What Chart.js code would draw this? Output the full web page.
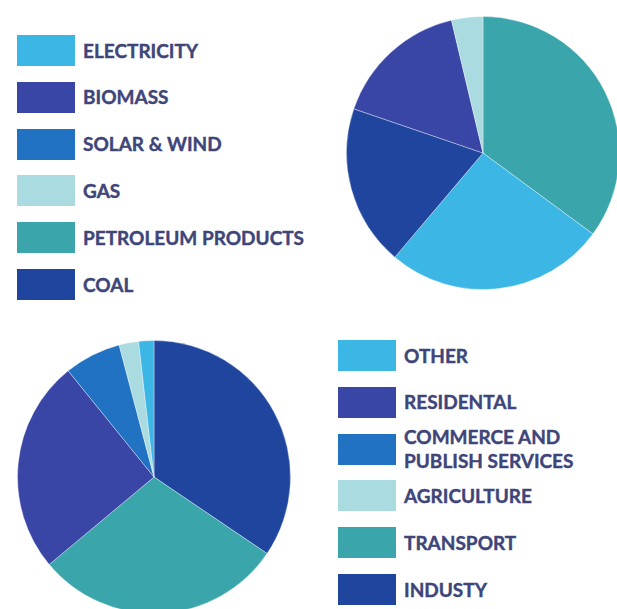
<!DOCTYPE html>
<html>
<head>
<meta charset="utf-8">
<script src="https://cdn.jsdelivr.net/npm/chart.js@4/dist/chart.umd.min.js"></script>
<style>
  html, body { margin: 0; padding: 0; width: 617px; height: 609px; overflow: hidden; background: #ffffff; }
  canvas { position: absolute; }
  .legend { position: absolute; margin: 0; padding: 0; list-style: none; }
  .legend li { position: absolute; left: 0; width: 300px; height: 31px; display: flex; align-items: center; }
  .legend .swatch { width: 58px; height: 31px; flex: none; }
  .legend .text {
    margin-left: 8px; font-family: Lato, "Open Sans", sans-serif; font-weight: 700;
    font-size: 19px; line-height: 24px; color: #3e4579; white-space: pre;
    -webkit-text-stroke: 0.4px #3e4579;
  }
</style>
</head>
<body>
<ul class="legend" id="sourceLegend" style="left:17px; top:35px;"></ul>
<ul class="legend" id="sectorLegend" style="left:338px; top:340px;"></ul>
<canvas id="sourcePie" width="274" height="274" style="left:346px; top:16px;"></canvas>
<canvas id="sectorPie" width="274" height="274" style="left:17px; top:340px;"></canvas>
<script>
// Shared palette, one colour per legend row
const palette = ['#3cb7e5', '#3a46a6', '#2172c2', '#a9dbe0', '#3aa5aa', '#1f459f'];

// Energy sources (legend order) and their shares, %
const sourceLabels = ['ELECTRICITY', 'BIOMASS', 'SOLAR & WIND', 'GAS', 'PETROLEUM PRODUCTS', 'COAL'];
const sourceShares = [26, 16, 0, 3.7, 35, 19];
// Slices run clockwise from 12 o'clock in this order
const sourceSliceOrder = [4, 0, 5, 1, 3, 2];

// Consuming sectors (legend order) and their shares, %
const sectorLabels = ['OTHER', 'RESIDENTAL', 'COMMERCE AND\nPUBLISH SERVICES', 'AGRICULTURE', 'TRANSPORT', 'INDUSTY'];
const sectorShares = [1.8, 25.2, 6.7, 2.3, 29.4, 34.4];
const sectorSliceOrder = [5, 4, 1, 2, 3, 0];

function buildLegend(id, labels) {
  const ul = document.getElementById(id);
  labels.forEach((label, i) => {
    const li = document.createElement('li');
    li.style.top = (i * 46.8) + 'px';
    const sw = document.createElement('span');
    sw.className = 'swatch';
    sw.style.background = palette[i];
    const tx = document.createElement('span');
    tx.className = 'text';
    tx.textContent = label;
    li.appendChild(sw);
    li.appendChild(tx);
    ul.appendChild(li);
  });
}

function buildPie(canvasId, labels, shares, order) {
  new Chart(document.getElementById(canvasId), {
    type: 'pie',
    data: {
      labels: order.map(i => labels[i].replace('\n', ' ')),
      datasets: [{
        data: order.map(i => shares[i]),
        backgroundColor: order.map(i => palette[i]),
        borderColor: 'rgba(255,255,255,0.35)',
        borderWidth: 1
      }]
    },
    options: {
      responsive: false,
      animation: false,
      layout: { padding: 0 },
      plugins: { legend: { display: false }, tooltip: { enabled: false } }
    }
  });
}

buildLegend('sourceLegend', sourceLabels);
buildLegend('sectorLegend', sectorLabels);
buildPie('sourcePie', sourceLabels, sourceShares, sourceSliceOrder);
buildPie('sectorPie', sectorLabels, sectorShares, sectorSliceOrder);
</script>
</body>
</html>
